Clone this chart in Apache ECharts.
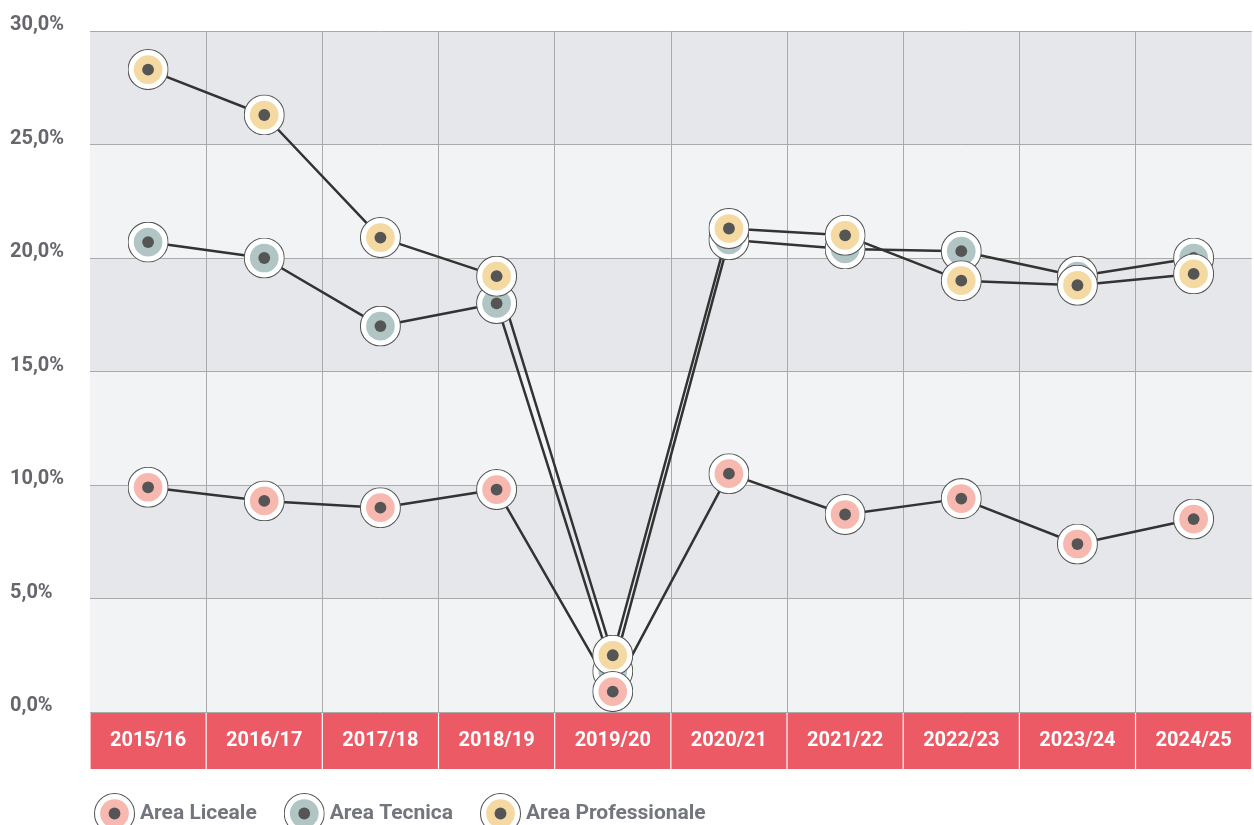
<!DOCTYPE html>
<html>
<head>
<meta charset="utf-8">
<script src="https://cdn.jsdelivr.net/npm/echarts@6/dist/echarts.min.js"></script>
<style>
  html, body { margin: 0; padding: 0; background: #fff; overflow: hidden; }
  #main { width: 1254px; height: 825px; }
</style>
</head>
<body>
<div id="main"></div>
<script>
var categories = ['2015/16', '2016/17', '2017/18', '2018/19', '2019/20', '2020/21', '2021/22', '2022/23', '2023/24', '2024/25'];
var liceale = [9.9, 9.3, 9.0, 9.8, 0.9, 10.5, 8.7, 9.4, 7.4, 8.5];
var tecnica = [20.7, 20.0, 17.0, 18.0, 1.8, 20.8, 20.4, 20.3, 19.2, 20.0];
var professionale = [28.3, 26.3, 20.9, 19.2, 2.5, 21.3, 21.0, 19.0, 18.8, 19.3];

// marcatore: cerchio bianco, anello colorato, punto scuro
function marker(color) {
    var svg = "<svg xmlns='http://www.w3.org/2000/svg' width='80' height='80'>" +
        "<circle cx='40' cy='40' r='39' fill='#ffffff' stroke='#555555' stroke-width='2'/>" +
        "<circle cx='40' cy='40' r='28' fill='" + color + "'/>" +
        "<circle cx='40' cy='40' r='11.5' fill='#555555'/>" +
        "</svg>";
    return 'image://data:image/svg+xml;charset=utf-8,' + encodeURIComponent(svg);
}

var colors = {
    'Area Liceale': '#f7b8b0',
    'Area Tecnica': '#b1c5c5',
    'Area Professionale': '#f5d9a2'
};

function serie(name, data) {
    return {
        name: name,
        type: 'line',
        data: data,
        symbol: marker(colors[name]),
        symbolSize: 41,
        lineStyle: { color: '#333333', width: 2.5 },
        itemStyle: { color: colors[name] },
        emphasis: { disabled: true },
        animation: false
    }
}

var myChart = echarts.init(document.getElementById('main'));
var option = {
    animation: false,
    grid: { left: 90, right: 0, top: 31, bottom: 113 },
    legend: {
        left: 89,
        top: 788,
        itemWidth: 41,
        itemHeight: 41,
        itemGap: 27,
        data: [
            { name: 'Area Liceale', icon: marker(colors['Area Liceale']) },
            { name: 'Area Tecnica', icon: marker(colors['Area Tecnica']) },
            { name: 'Area Professionale', icon: marker(colors['Area Professionale']) }
        ],
        textStyle: {
            color: '#74767e',
            fontSize: 21,
            fontWeight: 'bold',
            fontFamily: 'Roboto'
        }
    },
    xAxis: {
        type: 'category',
        data: categories,
        boundaryGap: true,
        axisLine: { show: false },
        axisTick: { show: false },
        splitLine: {
            show: true,
            showMinLine: false,
            showMaxLine: false,
            lineStyle: { color: '#aaaaaa', width: 1 }
        },
        axisLabel: {
            interval: 0,
            margin: 1,
            color: '#ffffff',
            fontSize: 20,
            fontWeight: 'bold',
            fontFamily: 'Roboto',
            backgroundColor: '#ec5b65',
            width: 115,
            height: 56,
            lineHeight: 56,
            align: 'center'
        }
    },
    yAxis: {
        type: 'value',
        min: 0,
        max: 30,
        interval: 5,
        axisLine: { show: false },
        axisTick: { show: false },
        splitLine: { lineStyle: { color: '#aaaaaa', width: 1 } },
        splitArea: {
            show: true,
            areaStyle: { color: ['#f2f3f5', '#e6e7ea'] }
        },
        axisLabel: {
            align: 'left',
            margin: 80,
            verticalAlign: 'bottom',
            lineHeight: 12,
            color: '#66666c',
            fontSize: 20,
            fontWeight: 'bold',
            fontFamily: 'Roboto',
            formatter: function (v) {
                return v.toFixed(1).replace('.', ',') + '%';
            }
        }
    },
    series: [
        serie('Area Tecnica', tecnica),
        serie('Area Professionale', professionale),
        serie('Area Liceale', liceale)
    ]
};
myChart.setOption(option);
</script>
</body>
</html>
